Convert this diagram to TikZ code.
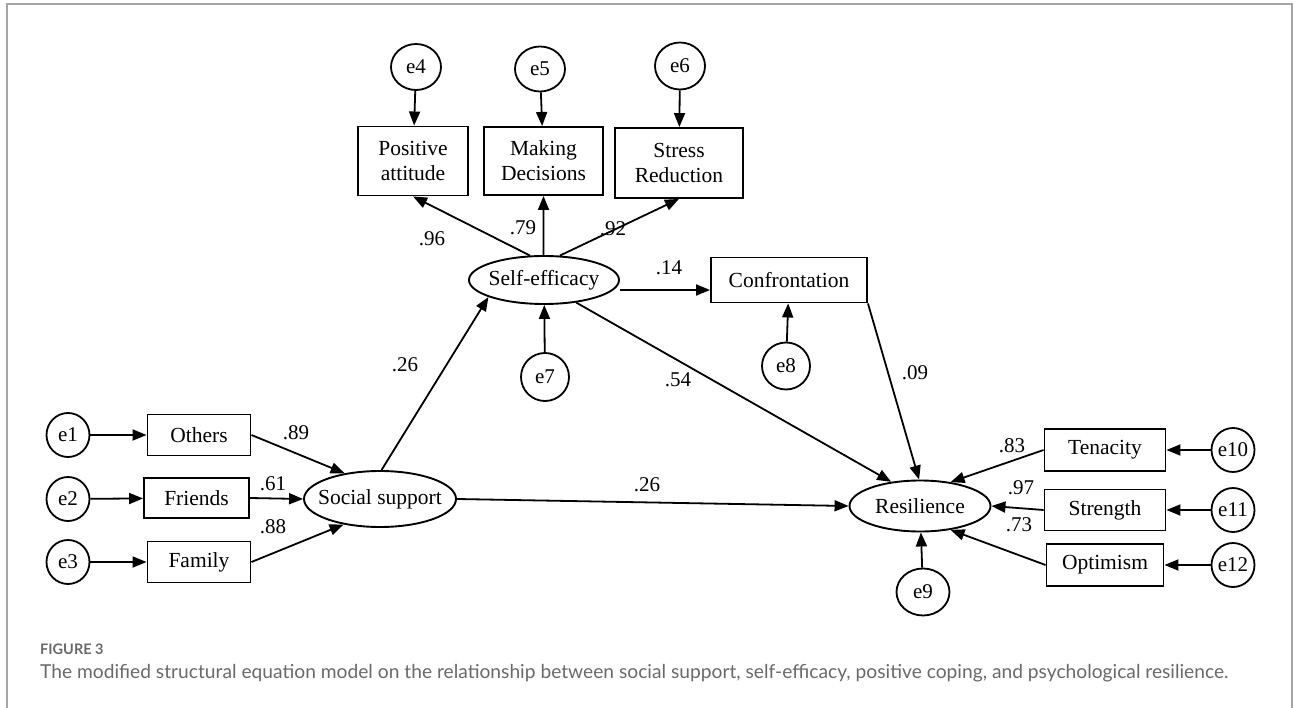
\documentclass[tikz,border=0pt]{standalone}
\usepackage{fontspec}
\setmainfont{Liberation Serif}
\newfontfamily\capfont{Lato}
\usetikzlibrary{arrows.meta,shapes.geometric}
\definecolor{framegray}{RGB}{165,165,165}
\definecolor{capgray}{RGB}{105,105,105}
\newcommand{\zw}[1]{\makebox[0pt]{#1}}
\begin{document}
\begin{tikzpicture}[x=1pt,y=-1pt,
  obs/.style={draw,line width=1.9pt,rectangle,inner sep=0pt,font=\fontsize{21.5}{25}\selectfont,align=center},
  lat/.style={draw,line width=1.9pt,ellipse,inner sep=0pt,font=\fontsize{21.5}{25}\selectfont},
  err/.style={draw,line width=1.8pt,ellipse,inner sep=0pt,font=\fontsize{21}{25}\selectfont},
  arr/.style={line width=1.8pt,-{Triangle[length=14pt,width=11pt]}},
  lbl/.style={inner sep=0pt,font=\fontsize{21}{25}\selectfont}]
\useasboundingbox (0,0) rectangle (1293,708);
\draw[framegray,line width=1.5pt] (7,708) -- (7,4) -- (1292,4) -- (1292,708);
% left indicators
\node[err,minimum width=43pt,minimum height=44pt] (e1) at (68,435) {e1};
\node[err,minimum width=43pt,minimum height=44pt] (e2) at (68,499) {e2};
\node[err,minimum width=43pt,minimum height=44pt] (e3) at (68,562) {e3};
\node[obs,minimum width=103pt,minimum height=41pt] (oth) at (199,435) {Others};
\node[obs,minimum width=105pt,minimum height=40pt] (fri) at (196.5,498) {Friends};
\node[obs,minimum width=103pt,minimum height=41pt] (fam) at (199,562) {Family};
\node[lat,minimum width=152pt,minimum height=56pt] (ss) at (380,499) {\zw{Social support}};
% self-efficacy block
\node[lat,minimum width=150pt,minimum height=48pt] (se) at (544,280) {\zw{Self-efficacy}};
\node[obs,minimum width=110pt,minimum height=69pt] (pa) at (413,161) {Positive\\attitude};
\node[obs,minimum width=119pt,minimum height=68pt] (md) at (543.5,161) {Making\\Decisions};
\node[obs,minimum width=128pt,minimum height=70pt] (sr) at (679,163) {Stress\\Reduction};
\node[err,minimum width=50pt,minimum height=46pt] (e4) at (416,67) {e4};
\node[err,minimum width=50pt,minimum height=45pt] (e5) at (540,69) {e5};
\node[err,minimum width=50pt,minimum height=47pt] (e6) at (680,66) {e6};
\node[err,minimum width=48pt,minimum height=48pt] (e7) at (545,377) {e7};
\node[obs,minimum width=156pt,minimum height=45pt] (con) at (789,280) {Confrontation};
\node[err,minimum width=48pt,minimum height=47pt] (e8) at (786,366) {e8};
% resilience block
\node[lat,minimum width=141pt,minimum height=51pt] (res) at (920,506) {\zw{Resilience}};
\node[obs,minimum width=121pt,minimum height=42pt] (ten) at (1105,450) {Tenacity};
\node[obs,minimum width=121pt,minimum height=41pt] (str) at (1105,510) {Strength};
\node[obs,minimum width=117pt,minimum height=42pt] (opt) at (1105,565) {Optimism};
\node[err,minimum width=43pt,minimum height=44pt] (e10) at (1233,450) {e10};
\node[err,minimum width=43pt,minimum height=44pt] (e11) at (1233,510) {e11};
\node[err,minimum width=43pt,minimum height=44pt] (e12) at (1233,565) {e12};
\node[err,minimum width=53pt,minimum height=47pt] (e9) at (923,592) {e9};
% arrows
\draw[arr] (e1) -- (oth);
\draw[arr] (e2) -- (fri);
\draw[arr] (e3) -- (fam);
\draw[arr] (oth.east) -- (ss.144);
\draw[arr] (fri.east) -- (ss.west);
\draw[arr] (fam.east) -- (ss.215);
\draw[arr] (ss.87) -- (se.197);
\draw[arr] (ss.east) -- (res.west);
\draw[arr] (e4) -- (pa);
\draw[arr] (e5) -- (md);
\draw[arr] (e6) -- (sr);
\draw[arr] (se.120) -- (pa.south);
\draw[arr] (se.91) -- (md.south);
\draw[arr] (se.57) -- (sr.south);
\draw[arr] (se.east|-con) ++(0,10) coordinate (sea) -- (sea-|con.west);
\draw[arr] (e7) -- (se);
\draw[arr] (e8) -- (con);
\draw[arr] (se.-35) -- (res.140);
\draw[arr] (con.south east) -- (res.92);
\draw[arr] (e9) -- (res);
\draw[arr] (ten.west) -- (res.38);
\draw[arr] (str.west) -- (res.east);
\draw[arr] (opt.west) -- (res.-38);
\draw[arr] (e10) -- (ten);
\draw[arr] (e11) -- (str);
\draw[arr] (e12) -- (opt);
% labels
\node[lbl] (l1) at (296,433) {.89};
\node[lbl] (l2) at (273,484) {.61};
\node[lbl] (l3) at (273,527) {.88};
\node[lbl] (l4) at (405,365) {.26};
\node[lbl] (l5) at (647,485) {.26};
\node[lbl] (l6) at (432,239) {.96};
\node[lbl] (l7) at (523,228) {.79};
\node[lbl] (l8) at (613,229) {.92};
\node[lbl] (l9) at (669,268) {.14};
\node[lbl] (l10) at (678,380) {.54};
\node[lbl] (l11) at (915,373) {.09};
\node[lbl] (l12) at (1012,446) {.83};
\node[lbl] (l13) at (1021,488) {.97};
\node[lbl] (l14) at (1019,525) {.73};
% caption
\node[anchor=base west,inner sep=0pt,text=capgray,font=\capfont\bfseries\fontsize{14.5}{17}\selectfont] (fig) at (40,654) {FIGURE 3};
\node[anchor=base west,inner sep=0pt,text=capgray,font=\capfont\fontsize{19.2}{22}\selectfont] (cap) at (40,678) {The modified structural equation model on the relationship between social support, self-efficacy, positive coping, and psychological resilience.};
\end{tikzpicture}
\end{document}
